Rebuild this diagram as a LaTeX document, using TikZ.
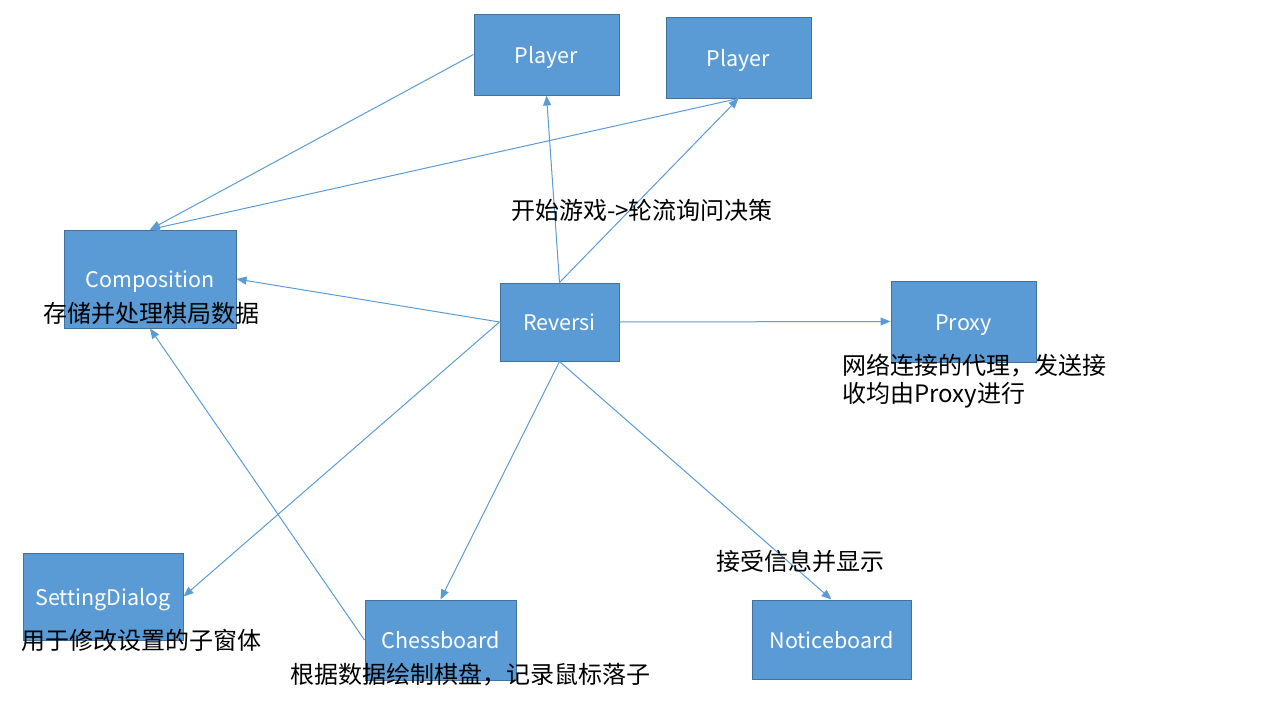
\documentclass[tikz,border=0pt]{standalone}
\usepackage{fontspec}
\setmainfont{Noto Sans CJK SC}
\usetikzlibrary{arrows.meta}
\definecolor{boxfill}{HTML}{5B9BD5}
\definecolor{boxline}{HTML}{41719C}
\definecolor{conn}{HTML}{5B9BD5}
\tikzset{
  box/.style={draw=boxline, line width=1pt, fill=boxfill, text=white, font=\fontsize{21.5}{26}\selectfont, inner sep=0pt, text height=22.4pt, text depth=5pt},
  captext/.style={text=black, font=\fontsize{24}{29}\selectfont, inner sep=0pt, anchor=west},
  link/.style={draw=conn, line width=1pt, -{Triangle[length=10pt,width=8pt]}}
}
\begin{document}
\begin{tikzpicture}[x=1pt,y=-1pt]
\useasboundingbox (0,0) rectangle (1280,720);
\node[box, minimum width=145pt, minimum height=81pt] (p1) at (546.5,54.5) {Player};
\node[box, minimum width=145pt, minimum height=81pt] (p2) at (738.5,57.5) {Player};
\node[box, minimum width=172pt, minimum height=98pt] (comp) at (150,279) {Composition};
\node[box, minimum width=119pt, minimum height=78pt] (rev) at (559.5,322) {Reversi};
\node[box, minimum width=145pt, minimum height=81pt] (proxy) at (963.5,321.5) {Proxy};
\node[box, minimum width=160pt, minimum height=87pt] (set) at (103,596.5) {SettingDialog};
\node[box, minimum width=151pt, minimum height=80pt] (chess) at (440.5,640) {Chessboard};
\node[box, minimum width=159pt, minimum height=79pt] (notice) at (831.5,639.5) {Noticeboard};

\draw[link] (p1.west) -- (comp.north);
\draw[link] (p2.south) -- (comp.north);
\draw[link] (rev.north) -- (p1.south);
\draw[link] (rev.north) -- (p2.south);
\draw[link] (rev.west) -- (comp.east);
\draw[link] (rev.east) -- (proxy.west);
\draw[link] (rev.west) -- (set.east);
\draw[link] (rev.south) -- (chess.north);
\draw[link] (rev.south) -- (notice.north);
\draw[link] (chess.west) -- (comp.south);

\node[captext] (c1) at (511,210) {开始游戏->轮流询问决策};
\node[captext] (c2) at (43,313) {存储并处理棋局数据};
\node[captext] (c3) at (842,366) {网络连接的代理，发送接};
\node[captext] (c4) at (842,395) {收均由Proxy进行};
\node[captext] (c5) at (716,561) {接受信息并显示};
\node[captext] (c6) at (21,640) {用于修改设置的子窗体};
\node[captext] (c7) at (290,675) {根据数据绘制棋盘，记录鼠标落子};
\end{tikzpicture}
\end{document}
